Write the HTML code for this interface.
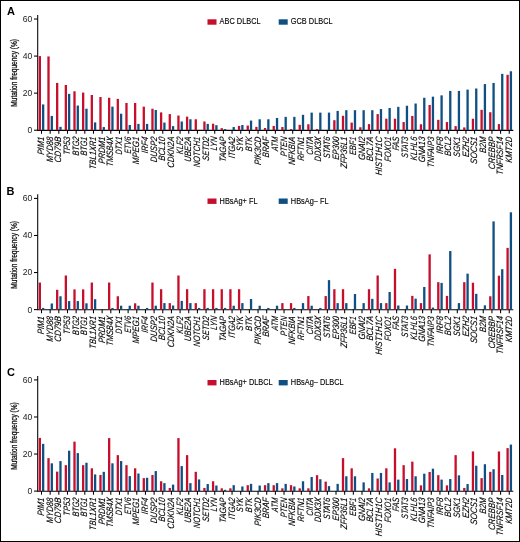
<!DOCTYPE html>
<html><head><meta charset="utf-8"><style>
html,body{margin:0;padding:0;background:#fff;}
svg{display:block;will-change:transform;}
text{font-family:"Liberation Sans",sans-serif;fill:#1a1a1a;}
.lt{font-size:11px;font-weight:bold;fill:#000;}
.yt{font-size:8.6px;text-anchor:end;}
.yl{font-size:9px;text-anchor:middle;fill:#111;stroke:#111;stroke-width:0.3px;}
.lg{font-size:8.3px;fill:#000;stroke:#000;stroke-width:0.12px;}
.gl{font-size:9.3px;font-style:italic;text-anchor:end;fill:#000;stroke:#000;stroke-width:0.12px;}
.ax{stroke:#000;stroke-width:1.05;}
</style></head><body>
<svg width="520" height="542" viewBox="0 0 520 542">
<rect x="0.5" y="0.5" width="519" height="541" fill="#fff" stroke="#000" stroke-width="1"/>
<g><text x="6.9" y="14.8" class="lt">A</text><line x1="37.7" y1="15.00" x2="37.7" y2="130.70" class="ax"/><line x1="37.2" y1="130.35" x2="513.3" y2="130.35" class="ax"/><line x1="34" y1="130.20" x2="37.7" y2="130.20" class="ax"/><text x="32.2" y="133.10" class="yt">0</text><line x1="34" y1="93.14" x2="37.7" y2="93.14" class="ax"/><text x="32.2" y="96.04" class="yt">20</text><line x1="34" y1="56.08" x2="37.7" y2="56.08" class="ax"/><text x="32.2" y="58.98" class="yt">40</text><line x1="34" y1="19.02" x2="37.7" y2="19.02" class="ax"/><text x="32.2" y="21.92" class="yt">60</text><text transform="translate(16.5,72.9) rotate(-90) scale(0.727,1)" class="yl">Mutation frequency (%)</text><rect x="207.5" y="19.3" width="9" height="5.4" fill="#c50f2d"/><text transform="translate(219.6,24.4) scale(0.89,1)" class="lg">ABC DLBCL</text><rect x="278.7" y="19.3" width="9" height="5.4" fill="#0f4f82"/><text transform="translate(290.8,24.4) scale(0.89,1)" class="lg">GCB DLBCL</text><rect x="38.70" y="56.08" width="2.3" height="74.12" fill="#c50f2d"/><rect x="42.00" y="104.44" width="2.3" height="25.76" fill="#0f4f82"/><line x1="41.50" y1="130.20" x2="41.50" y2="133.80" class="ax"/><text transform="translate(44.10,137.00) rotate(-90) scale(0.8348,1) skewX(-8)" class="gl">PIM1</text><rect x="47.36" y="56.45" width="2.3" height="73.75" fill="#c50f2d"/><rect x="50.66" y="115.93" width="2.3" height="14.27" fill="#0f4f82"/><line x1="50.16" y1="130.20" x2="50.16" y2="133.80" class="ax"/><text transform="translate(52.76,137.00) rotate(-90) scale(0.8233,1) skewX(-8)" class="gl">MYD88</text><rect x="56.02" y="82.95" width="2.3" height="47.25" fill="#c50f2d"/><rect x="59.32" y="126.86" width="2.3" height="3.34" fill="#0f4f82"/><line x1="58.82" y1="130.20" x2="58.82" y2="133.80" class="ax"/><text transform="translate(61.42,137.00) rotate(-90) scale(0.8585,1) skewX(-8)" class="gl">CD79B</text><rect x="64.69" y="84.99" width="2.3" height="45.21" fill="#c50f2d"/><rect x="67.99" y="93.88" width="2.3" height="36.32" fill="#0f4f82"/><line x1="67.49" y1="130.20" x2="67.49" y2="133.80" class="ax"/><text transform="translate(70.09,137.00) rotate(-90) scale(0.8151,1) skewX(-8)" class="gl">TP53</text><rect x="73.35" y="91.29" width="2.3" height="38.91" fill="#c50f2d"/><rect x="76.65" y="105.56" width="2.3" height="24.64" fill="#0f4f82"/><line x1="76.15" y1="130.20" x2="76.15" y2="133.80" class="ax"/><text transform="translate(78.75,137.00) rotate(-90) scale(0.7741,1) skewX(-8)" class="gl">BTG2</text><rect x="82.01" y="92.58" width="2.3" height="37.62" fill="#c50f2d"/><rect x="85.31" y="108.71" width="2.3" height="21.49" fill="#0f4f82"/><line x1="84.81" y1="130.20" x2="84.81" y2="133.80" class="ax"/><text transform="translate(87.41,137.00) rotate(-90) scale(0.7741,1) skewX(-8)" class="gl">BTG1</text><rect x="90.67" y="94.99" width="2.3" height="35.21" fill="#c50f2d"/><rect x="93.97" y="122.42" width="2.3" height="7.78" fill="#0f4f82"/><line x1="93.47" y1="130.20" x2="93.47" y2="133.80" class="ax"/><text transform="translate(96.07,137.00) rotate(-90) scale(0.8069,1) skewX(-8)" class="gl">TBL1XR1</text><rect x="99.33" y="97.03" width="2.3" height="33.17" fill="#c50f2d"/><rect x="102.63" y="127.05" width="2.3" height="3.15" fill="#0f4f82"/><line x1="102.13" y1="130.20" x2="102.13" y2="133.80" class="ax"/><text transform="translate(104.73,137.00) rotate(-90) scale(0.8298,1) skewX(-8)" class="gl">PRDM1</text><rect x="108.00" y="97.77" width="2.3" height="32.43" fill="#c50f2d"/><rect x="111.30" y="106.67" width="2.3" height="23.53" fill="#0f4f82"/><line x1="110.80" y1="130.20" x2="110.80" y2="133.80" class="ax"/><text transform="translate(113.40,137.00) rotate(-90) scale(0.7979,1) skewX(-8)" class="gl">TMSB4X</text><rect x="116.66" y="98.88" width="2.3" height="31.32" fill="#c50f2d"/><rect x="119.96" y="113.71" width="2.3" height="16.49" fill="#0f4f82"/><line x1="119.46" y1="130.20" x2="119.46" y2="133.80" class="ax"/><text transform="translate(122.06,137.00) rotate(-90) scale(0.7454,1) skewX(-8)" class="gl">DTX1</text><rect x="125.32" y="102.96" width="2.3" height="27.24" fill="#c50f2d"/><rect x="128.62" y="125.01" width="2.3" height="5.19" fill="#0f4f82"/><line x1="128.12" y1="130.20" x2="128.12" y2="133.80" class="ax"/><text transform="translate(130.72,137.00) rotate(-90) scale(0.7183,1) skewX(-8)" class="gl">ETV6</text><rect x="133.98" y="102.96" width="2.3" height="27.24" fill="#c50f2d"/><rect x="137.28" y="123.90" width="2.3" height="6.30" fill="#0f4f82"/><line x1="136.78" y1="130.20" x2="136.78" y2="133.80" class="ax"/><text transform="translate(139.38,137.00) rotate(-90) scale(0.8454,1) skewX(-8)" class="gl">MPEG1</text><rect x="142.64" y="106.67" width="2.3" height="23.53" fill="#c50f2d"/><rect x="145.94" y="123.90" width="2.3" height="6.30" fill="#0f4f82"/><line x1="145.44" y1="130.20" x2="145.44" y2="133.80" class="ax"/><text transform="translate(148.04,137.00) rotate(-90) scale(0.8249,1) skewX(-8)" class="gl">IRF4</text><rect x="151.31" y="108.71" width="2.3" height="21.49" fill="#c50f2d"/><rect x="154.61" y="110.00" width="2.3" height="20.20" fill="#0f4f82"/><line x1="154.11" y1="130.20" x2="154.11" y2="133.80" class="ax"/><text transform="translate(156.71,137.00) rotate(-90) scale(0.8233,1) skewX(-8)" class="gl">DUSP2</text><rect x="159.97" y="112.41" width="2.3" height="17.79" fill="#c50f2d"/><rect x="163.27" y="122.60" width="2.3" height="7.60" fill="#0f4f82"/><line x1="162.77" y1="130.20" x2="162.77" y2="133.80" class="ax"/><text transform="translate(165.37,137.00) rotate(-90) scale(0.8487,1) skewX(-8)" class="gl">BCL10</text><rect x="168.63" y="114.08" width="2.3" height="16.12" fill="#c50f2d"/><rect x="171.93" y="126.12" width="2.3" height="4.08" fill="#0f4f82"/><line x1="171.43" y1="130.20" x2="171.43" y2="133.80" class="ax"/><text transform="translate(174.03,137.00) rotate(-90) scale(0.8257,1) skewX(-8)" class="gl">CDKN2A</text><rect x="177.29" y="115.56" width="2.3" height="14.64" fill="#c50f2d"/><rect x="180.59" y="121.49" width="2.3" height="8.71" fill="#0f4f82"/><line x1="180.09" y1="130.20" x2="180.09" y2="133.80" class="ax"/><text transform="translate(182.69,137.00) rotate(-90) scale(0.7872,1) skewX(-8)" class="gl">KLF2</text><rect x="185.95" y="116.67" width="2.3" height="13.53" fill="#c50f2d"/><rect x="189.25" y="119.27" width="2.3" height="10.93" fill="#0f4f82"/><line x1="188.75" y1="130.20" x2="188.75" y2="133.80" class="ax"/><text transform="translate(191.35,137.00) rotate(-90) scale(0.8233,1) skewX(-8)" class="gl">UBE2A</text><rect x="194.62" y="119.27" width="2.3" height="10.93" fill="#c50f2d"/><line x1="197.42" y1="130.20" x2="197.42" y2="133.80" class="ax"/><text transform="translate(200.02,137.00) rotate(-90) scale(0.7987,1) skewX(-8)" class="gl">NOTCH1</text><rect x="203.28" y="121.49" width="2.3" height="8.71" fill="#c50f2d"/><rect x="206.58" y="123.90" width="2.3" height="6.30" fill="#0f4f82"/><line x1="206.08" y1="130.20" x2="206.08" y2="133.80" class="ax"/><text transform="translate(208.68,137.00) rotate(-90) scale(0.8028,1) skewX(-8)" class="gl">SETD2</text><rect x="211.94" y="123.71" width="2.3" height="6.49" fill="#c50f2d"/><rect x="215.24" y="125.20" width="2.3" height="5.00" fill="#0f4f82"/><line x1="214.74" y1="130.20" x2="214.74" y2="133.80" class="ax"/><text transform="translate(217.34,137.00) rotate(-90) scale(0.7962,1) skewX(-8)" class="gl">LYN</text><rect x="220.60" y="128.16" width="2.3" height="2.04" fill="#c50f2d"/><rect x="223.90" y="129.09" width="2.3" height="1.11" fill="#0f4f82"/><line x1="223.40" y1="130.20" x2="223.40" y2="133.80" class="ax"/><text transform="translate(226.00,137.00) rotate(-90) scale(0.8134,1) skewX(-8)" class="gl">TAGAP</text><rect x="232.56" y="127.05" width="2.3" height="3.15" fill="#0f4f82"/><line x1="232.06" y1="130.20" x2="232.06" y2="133.80" class="ax"/><text transform="translate(234.66,137.00) rotate(-90) scale(0.8044,1) skewX(-8)" class="gl">ITGA2</text><rect x="237.93" y="125.94" width="2.3" height="4.26" fill="#c50f2d"/><rect x="241.23" y="125.01" width="2.3" height="5.19" fill="#0f4f82"/><line x1="240.73" y1="130.20" x2="240.73" y2="133.80" class="ax"/><text transform="translate(243.33,137.00) rotate(-90) scale(0.7749,1) skewX(-8)" class="gl">SYK</text><rect x="246.59" y="125.57" width="2.3" height="4.63" fill="#c50f2d"/><rect x="249.89" y="120.56" width="2.3" height="9.64" fill="#0f4f82"/><line x1="249.39" y1="130.20" x2="249.39" y2="133.80" class="ax"/><text transform="translate(251.99,137.00) rotate(-90) scale(0.8200,1) skewX(-8)" class="gl">BTK</text><rect x="255.25" y="126.86" width="2.3" height="3.34" fill="#c50f2d"/><rect x="258.55" y="119.27" width="2.3" height="10.93" fill="#0f4f82"/><line x1="258.05" y1="130.20" x2="258.05" y2="133.80" class="ax"/><text transform="translate(260.65,137.00) rotate(-90) scale(0.8446,1) skewX(-8)" class="gl">PIK3CD</text><rect x="263.91" y="127.98" width="2.3" height="2.22" fill="#c50f2d"/><rect x="267.21" y="119.27" width="2.3" height="10.93" fill="#0f4f82"/><line x1="266.71" y1="130.20" x2="266.71" y2="133.80" class="ax"/><text transform="translate(269.31,137.00) rotate(-90) scale(0.8364,1) skewX(-8)" class="gl">BRAF</text><rect x="272.57" y="125.94" width="2.3" height="4.26" fill="#c50f2d"/><rect x="275.88" y="117.97" width="2.3" height="12.23" fill="#0f4f82"/><line x1="275.38" y1="130.20" x2="275.38" y2="133.80" class="ax"/><text transform="translate(277.98,137.00) rotate(-90) scale(0.7569,1) skewX(-8)" class="gl">ATM</text><rect x="281.24" y="127.05" width="2.3" height="3.15" fill="#c50f2d"/><rect x="284.54" y="116.86" width="2.3" height="13.34" fill="#0f4f82"/><line x1="284.04" y1="130.20" x2="284.04" y2="133.80" class="ax"/><text transform="translate(286.64,137.00) rotate(-90) scale(0.7946,1) skewX(-8)" class="gl">PTEN</text><rect x="289.90" y="129.09" width="2.3" height="1.11" fill="#c50f2d"/><rect x="293.20" y="116.86" width="2.3" height="13.34" fill="#0f4f82"/><line x1="292.70" y1="130.20" x2="292.70" y2="133.80" class="ax"/><text transform="translate(295.30,137.00) rotate(-90) scale(0.8446,1) skewX(-8)" class="gl">NFKBIA</text><rect x="298.56" y="124.83" width="2.3" height="5.37" fill="#c50f2d"/><rect x="301.86" y="114.82" width="2.3" height="15.38" fill="#0f4f82"/><line x1="301.36" y1="130.20" x2="301.36" y2="133.80" class="ax"/><text transform="translate(303.96,137.00) rotate(-90) scale(0.8028,1) skewX(-8)" class="gl">RFTN1</text><rect x="307.22" y="124.27" width="2.3" height="5.93" fill="#c50f2d"/><rect x="310.52" y="112.60" width="2.3" height="17.60" fill="#0f4f82"/><line x1="310.02" y1="130.20" x2="310.02" y2="133.80" class="ax"/><text transform="translate(312.62,137.00) rotate(-90) scale(0.7847,1) skewX(-8)" class="gl">CIITA</text><rect x="315.89" y="129.09" width="2.3" height="1.11" fill="#c50f2d"/><rect x="319.19" y="112.60" width="2.3" height="17.60" fill="#0f4f82"/><line x1="318.69" y1="130.20" x2="318.69" y2="133.80" class="ax"/><text transform="translate(321.29,137.00) rotate(-90) scale(0.7970,1) skewX(-8)" class="gl">DDX3X</text><rect x="327.85" y="112.60" width="2.3" height="17.60" fill="#0f4f82"/><line x1="327.35" y1="130.20" x2="327.35" y2="133.80" class="ax"/><text transform="translate(329.95,137.00) rotate(-90) scale(0.7823,1) skewX(-8)" class="gl">STAT6</text><rect x="333.21" y="120.19" width="2.3" height="10.01" fill="#c50f2d"/><rect x="336.51" y="110.93" width="2.3" height="19.27" fill="#0f4f82"/><line x1="336.01" y1="130.20" x2="336.01" y2="133.80" class="ax"/><text transform="translate(338.61,137.00) rotate(-90) scale(0.8233,1) skewX(-8)" class="gl">EP300</text><rect x="341.87" y="115.75" width="2.3" height="14.45" fill="#c50f2d"/><rect x="345.17" y="110.19" width="2.3" height="20.01" fill="#0f4f82"/><line x1="344.67" y1="130.20" x2="344.67" y2="133.80" class="ax"/><text transform="translate(347.27,137.00) rotate(-90) scale(0.8257,1) skewX(-8)" class="gl">ZFP36L1</text><rect x="350.53" y="122.60" width="2.3" height="7.60" fill="#c50f2d"/><rect x="353.83" y="110.19" width="2.3" height="20.01" fill="#0f4f82"/><line x1="353.33" y1="130.20" x2="353.33" y2="133.80" class="ax"/><text transform="translate(355.93,137.00) rotate(-90) scale(0.7847,1) skewX(-8)" class="gl">EBF1</text><rect x="359.20" y="127.24" width="2.3" height="2.96" fill="#c50f2d"/><rect x="362.50" y="110.19" width="2.3" height="20.01" fill="#0f4f82"/><line x1="362.00" y1="130.20" x2="362.00" y2="133.80" class="ax"/><text transform="translate(364.60,137.00) rotate(-90) scale(0.8380,1) skewX(-8)" class="gl">GNAI2</text><rect x="367.86" y="124.09" width="2.3" height="6.11" fill="#c50f2d"/><rect x="371.16" y="110.19" width="2.3" height="20.01" fill="#0f4f82"/><line x1="370.66" y1="130.20" x2="370.66" y2="133.80" class="ax"/><text transform="translate(373.26,137.00) rotate(-90) scale(0.8307,1) skewX(-8)" class="gl">BCL7A</text><rect x="376.52" y="114.08" width="2.3" height="16.12" fill="#c50f2d"/><rect x="379.82" y="109.08" width="2.3" height="21.12" fill="#0f4f82"/><line x1="379.32" y1="130.20" x2="379.32" y2="133.80" class="ax"/><text transform="translate(381.92,137.00) rotate(-90) scale(0.8569,1) skewX(-8)" class="gl">HIST1H1C</text><rect x="385.18" y="118.71" width="2.3" height="11.49" fill="#c50f2d"/><rect x="388.48" y="107.96" width="2.3" height="22.24" fill="#0f4f82"/><line x1="387.98" y1="130.20" x2="387.98" y2="133.80" class="ax"/><text transform="translate(390.58,137.00) rotate(-90) scale(0.7897,1) skewX(-8)" class="gl">FOXO1</text><rect x="393.84" y="118.71" width="2.3" height="11.49" fill="#c50f2d"/><rect x="397.14" y="106.85" width="2.3" height="23.35" fill="#0f4f82"/><line x1="396.64" y1="130.20" x2="396.64" y2="133.80" class="ax"/><text transform="translate(399.24,137.00) rotate(-90) scale(0.7962,1) skewX(-8)" class="gl">FAS</text><rect x="402.51" y="122.05" width="2.3" height="8.15" fill="#c50f2d"/><rect x="405.81" y="105.74" width="2.3" height="24.46" fill="#0f4f82"/><line x1="405.31" y1="130.20" x2="405.31" y2="133.80" class="ax"/><text transform="translate(407.91,137.00) rotate(-90) scale(0.7667,1) skewX(-8)" class="gl">STAT3</text><rect x="411.17" y="115.93" width="2.3" height="14.27" fill="#c50f2d"/><rect x="414.47" y="103.52" width="2.3" height="26.68" fill="#0f4f82"/><line x1="413.97" y1="130.20" x2="413.97" y2="133.80" class="ax"/><text transform="translate(416.57,137.00) rotate(-90) scale(0.8380,1) skewX(-8)" class="gl">KLHL6</text><rect x="419.83" y="124.27" width="2.3" height="5.93" fill="#c50f2d"/><rect x="423.13" y="97.77" width="2.3" height="32.43" fill="#0f4f82"/><line x1="422.63" y1="130.20" x2="422.63" y2="133.80" class="ax"/><text transform="translate(425.23,137.00) rotate(-90) scale(0.8397,1) skewX(-8)" class="gl">GNA13</text><rect x="428.49" y="105.00" width="2.3" height="25.20" fill="#c50f2d"/><rect x="431.79" y="96.66" width="2.3" height="33.54" fill="#0f4f82"/><line x1="431.29" y1="130.20" x2="431.29" y2="133.80" class="ax"/><text transform="translate(433.89,137.00) rotate(-90) scale(0.8200,1) skewX(-8)" class="gl">TNFAIP3</text><rect x="437.15" y="119.82" width="2.3" height="10.38" fill="#c50f2d"/><rect x="440.45" y="95.36" width="2.3" height="34.84" fill="#0f4f82"/><line x1="439.95" y1="130.20" x2="439.95" y2="133.80" class="ax"/><text transform="translate(442.55,137.00) rotate(-90) scale(0.8569,1) skewX(-8)" class="gl">IRF8</text><rect x="445.82" y="122.05" width="2.3" height="8.15" fill="#c50f2d"/><rect x="449.12" y="90.92" width="2.3" height="39.28" fill="#0f4f82"/><line x1="448.62" y1="130.20" x2="448.62" y2="133.80" class="ax"/><text transform="translate(451.22,137.00) rotate(-90) scale(0.8290,1) skewX(-8)" class="gl">BCL2</text><rect x="454.48" y="126.12" width="2.3" height="4.08" fill="#c50f2d"/><rect x="457.78" y="90.92" width="2.3" height="39.28" fill="#0f4f82"/><line x1="457.28" y1="130.20" x2="457.28" y2="133.80" class="ax"/><text transform="translate(459.88,137.00) rotate(-90) scale(0.8118,1) skewX(-8)" class="gl">SGK1</text><rect x="463.14" y="127.42" width="2.3" height="2.78" fill="#c50f2d"/><rect x="466.44" y="89.62" width="2.3" height="40.58" fill="#0f4f82"/><line x1="465.94" y1="130.20" x2="465.94" y2="133.80" class="ax"/><text transform="translate(468.54,137.00) rotate(-90) scale(0.8553,1) skewX(-8)" class="gl">EZH2</text><rect x="471.80" y="118.71" width="2.3" height="11.49" fill="#c50f2d"/><rect x="475.10" y="88.51" width="2.3" height="41.69" fill="#0f4f82"/><line x1="474.60" y1="130.20" x2="474.60" y2="133.80" class="ax"/><text transform="translate(477.20,137.00) rotate(-90) scale(0.8635,1) skewX(-8)" class="gl">SOCS1</text><rect x="480.46" y="109.82" width="2.3" height="20.38" fill="#c50f2d"/><rect x="483.76" y="84.06" width="2.3" height="46.14" fill="#0f4f82"/><line x1="483.26" y1="130.20" x2="483.26" y2="133.80" class="ax"/><text transform="translate(485.86,137.00) rotate(-90) scale(0.8479,1) skewX(-8)" class="gl">B2M</text><rect x="489.13" y="112.23" width="2.3" height="17.97" fill="#c50f2d"/><rect x="492.43" y="82.95" width="2.3" height="47.25" fill="#0f4f82"/><line x1="491.93" y1="130.20" x2="491.93" y2="133.80" class="ax"/><text transform="translate(494.53,137.00) rotate(-90) scale(0.8495,1) skewX(-8)" class="gl">CREBBP</text><rect x="497.79" y="124.09" width="2.3" height="6.11" fill="#c50f2d"/><rect x="501.09" y="73.87" width="2.3" height="56.33" fill="#0f4f82"/><line x1="500.59" y1="130.20" x2="500.59" y2="133.80" class="ax"/><text transform="translate(503.19,137.00) rotate(-90) scale(0.8069,1) skewX(-8)" class="gl">TNFRSF14</text><rect x="506.45" y="74.80" width="2.3" height="55.40" fill="#c50f2d"/><rect x="509.75" y="71.27" width="2.3" height="58.93" fill="#0f4f82"/><line x1="509.25" y1="130.20" x2="509.25" y2="133.80" class="ax"/><text transform="translate(511.85,137.00) rotate(-90) scale(0.8298,1) skewX(-8)" class="gl">KMT2D</text></g>
<g><text x="6.6" y="194.6" class="lt">B</text><line x1="37.7" y1="194.30" x2="37.7" y2="310.10" class="ax"/><line x1="37.2" y1="309.75" x2="513.3" y2="309.75" class="ax"/><line x1="34" y1="309.60" x2="37.7" y2="309.60" class="ax"/><text x="32.2" y="312.50" class="yt">0</text><line x1="34" y1="272.54" x2="37.7" y2="272.54" class="ax"/><text x="32.2" y="275.44" class="yt">20</text><line x1="34" y1="235.48" x2="37.7" y2="235.48" class="ax"/><text x="32.2" y="238.38" class="yt">40</text><line x1="34" y1="198.42" x2="37.7" y2="198.42" class="ax"/><text x="32.2" y="201.32" class="yt">60</text><text transform="translate(16.5,254.9) rotate(-90) scale(0.727,1)" class="yl">Mutation frequency (%)</text><rect x="207.5" y="198.5" width="9" height="5.4" fill="#c50f2d"/><text transform="translate(219.6,203.6) scale(0.89,1)" class="lg">HBsAg+ FL</text><rect x="278.7" y="198.5" width="9" height="5.4" fill="#0f4f82"/><text transform="translate(290.8,203.6) scale(0.89,1)" class="lg">HBsAg– FL</text><rect x="38.70" y="282.55" width="2.3" height="27.05" fill="#c50f2d"/><rect x="42.00" y="307.93" width="2.3" height="1.67" fill="#0f4f82"/><line x1="41.50" y1="309.60" x2="41.50" y2="313.20" class="ax"/><text transform="translate(44.10,316.40) rotate(-90) scale(0.8348,1) skewX(-8)" class="gl">PIM1</text><rect x="50.66" y="303.49" width="2.3" height="6.11" fill="#0f4f82"/><line x1="50.16" y1="309.60" x2="50.16" y2="313.20" class="ax"/><text transform="translate(52.76,316.40) rotate(-90) scale(0.8233,1) skewX(-8)" class="gl">MYD88</text><rect x="56.02" y="289.77" width="2.3" height="19.83" fill="#c50f2d"/><rect x="59.32" y="296.26" width="2.3" height="13.34" fill="#0f4f82"/><line x1="58.82" y1="309.60" x2="58.82" y2="313.20" class="ax"/><text transform="translate(61.42,316.40) rotate(-90) scale(0.8585,1) skewX(-8)" class="gl">CD79B</text><rect x="64.69" y="275.50" width="2.3" height="34.10" fill="#c50f2d"/><rect x="67.99" y="301.08" width="2.3" height="8.52" fill="#0f4f82"/><line x1="67.49" y1="309.60" x2="67.49" y2="313.20" class="ax"/><text transform="translate(70.09,316.40) rotate(-90) scale(0.8151,1) skewX(-8)" class="gl">TP53</text><rect x="73.35" y="289.40" width="2.3" height="20.20" fill="#c50f2d"/><rect x="76.65" y="301.08" width="2.3" height="8.52" fill="#0f4f82"/><line x1="76.15" y1="309.60" x2="76.15" y2="313.20" class="ax"/><text transform="translate(78.75,316.40) rotate(-90) scale(0.7741,1) skewX(-8)" class="gl">BTG2</text><rect x="82.01" y="289.40" width="2.3" height="20.20" fill="#c50f2d"/><rect x="85.31" y="303.30" width="2.3" height="6.30" fill="#0f4f82"/><line x1="84.81" y1="309.60" x2="84.81" y2="313.20" class="ax"/><text transform="translate(87.41,316.40) rotate(-90) scale(0.7741,1) skewX(-8)" class="gl">BTG1</text><rect x="90.67" y="282.55" width="2.3" height="27.05" fill="#c50f2d"/><rect x="93.97" y="299.22" width="2.3" height="10.38" fill="#0f4f82"/><line x1="93.47" y1="309.60" x2="93.47" y2="313.20" class="ax"/><text transform="translate(96.07,316.40) rotate(-90) scale(0.8069,1) skewX(-8)" class="gl">TBL1XR1</text><line x1="102.13" y1="309.60" x2="102.13" y2="313.20" class="ax"/><text transform="translate(104.73,316.40) rotate(-90) scale(0.8298,1) skewX(-8)" class="gl">PRDM1</text><rect x="108.00" y="282.55" width="2.3" height="27.05" fill="#c50f2d"/><rect x="111.30" y="307.93" width="2.3" height="1.67" fill="#0f4f82"/><line x1="110.80" y1="309.60" x2="110.80" y2="313.20" class="ax"/><text transform="translate(113.40,316.40) rotate(-90) scale(0.7979,1) skewX(-8)" class="gl">TMSB4X</text><rect x="116.66" y="296.26" width="2.3" height="13.34" fill="#c50f2d"/><rect x="119.96" y="305.71" width="2.3" height="3.89" fill="#0f4f82"/><line x1="119.46" y1="309.60" x2="119.46" y2="313.20" class="ax"/><text transform="translate(122.06,316.40) rotate(-90) scale(0.7454,1) skewX(-8)" class="gl">DTX1</text><rect x="128.62" y="305.71" width="2.3" height="3.89" fill="#0f4f82"/><line x1="128.12" y1="309.60" x2="128.12" y2="313.20" class="ax"/><text transform="translate(130.72,316.40) rotate(-90) scale(0.7183,1) skewX(-8)" class="gl">ETV6</text><rect x="133.98" y="303.30" width="2.3" height="6.30" fill="#c50f2d"/><rect x="137.28" y="305.71" width="2.3" height="3.89" fill="#0f4f82"/><line x1="136.78" y1="309.60" x2="136.78" y2="313.20" class="ax"/><text transform="translate(139.38,316.40) rotate(-90) scale(0.8454,1) skewX(-8)" class="gl">MPEG1</text><rect x="145.94" y="307.93" width="2.3" height="1.67" fill="#0f4f82"/><line x1="145.44" y1="309.60" x2="145.44" y2="313.20" class="ax"/><text transform="translate(148.04,316.40) rotate(-90) scale(0.8249,1) skewX(-8)" class="gl">IRF4</text><rect x="151.31" y="282.55" width="2.3" height="27.05" fill="#c50f2d"/><rect x="154.61" y="305.71" width="2.3" height="3.89" fill="#0f4f82"/><line x1="154.11" y1="309.60" x2="154.11" y2="313.20" class="ax"/><text transform="translate(156.71,316.40) rotate(-90) scale(0.8233,1) skewX(-8)" class="gl">DUSP2</text><rect x="159.97" y="289.22" width="2.3" height="20.38" fill="#c50f2d"/><rect x="163.27" y="303.11" width="2.3" height="6.49" fill="#0f4f82"/><line x1="162.77" y1="309.60" x2="162.77" y2="313.20" class="ax"/><text transform="translate(165.37,316.40) rotate(-90) scale(0.8487,1) skewX(-8)" class="gl">BCL10</text><rect x="168.63" y="303.11" width="2.3" height="6.49" fill="#c50f2d"/><rect x="171.93" y="305.52" width="2.3" height="4.08" fill="#0f4f82"/><line x1="171.43" y1="309.60" x2="171.43" y2="313.20" class="ax"/><text transform="translate(174.03,316.40) rotate(-90) scale(0.8257,1) skewX(-8)" class="gl">CDKN2A</text><rect x="177.29" y="275.50" width="2.3" height="34.10" fill="#c50f2d"/><rect x="180.59" y="300.89" width="2.3" height="8.71" fill="#0f4f82"/><line x1="180.09" y1="309.60" x2="180.09" y2="313.20" class="ax"/><text transform="translate(182.69,316.40) rotate(-90) scale(0.7872,1) skewX(-8)" class="gl">KLF2</text><rect x="185.95" y="289.22" width="2.3" height="20.38" fill="#c50f2d"/><rect x="189.25" y="303.11" width="2.3" height="6.49" fill="#0f4f82"/><line x1="188.75" y1="309.60" x2="188.75" y2="313.20" class="ax"/><text transform="translate(191.35,316.40) rotate(-90) scale(0.8233,1) skewX(-8)" class="gl">UBE2A</text><rect x="194.62" y="303.11" width="2.3" height="6.49" fill="#c50f2d"/><rect x="197.92" y="307.93" width="2.3" height="1.67" fill="#0f4f82"/><line x1="197.42" y1="309.60" x2="197.42" y2="313.20" class="ax"/><text transform="translate(200.02,316.40) rotate(-90) scale(0.7987,1) skewX(-8)" class="gl">NOTCH1</text><rect x="203.28" y="289.22" width="2.3" height="20.38" fill="#c50f2d"/><rect x="206.58" y="307.93" width="2.3" height="1.67" fill="#0f4f82"/><line x1="206.08" y1="309.60" x2="206.08" y2="313.20" class="ax"/><text transform="translate(208.68,316.40) rotate(-90) scale(0.8028,1) skewX(-8)" class="gl">SETD2</text><rect x="211.94" y="289.22" width="2.3" height="20.38" fill="#c50f2d"/><rect x="215.24" y="307.93" width="2.3" height="1.67" fill="#0f4f82"/><line x1="214.74" y1="309.60" x2="214.74" y2="313.20" class="ax"/><text transform="translate(217.34,316.40) rotate(-90) scale(0.7962,1) skewX(-8)" class="gl">LYN</text><rect x="220.60" y="289.22" width="2.3" height="20.38" fill="#c50f2d"/><rect x="223.90" y="307.93" width="2.3" height="1.67" fill="#0f4f82"/><line x1="223.40" y1="309.60" x2="223.40" y2="313.20" class="ax"/><text transform="translate(226.00,316.40) rotate(-90) scale(0.8134,1) skewX(-8)" class="gl">TAGAP</text><rect x="229.26" y="289.22" width="2.3" height="20.38" fill="#c50f2d"/><rect x="232.56" y="305.71" width="2.3" height="3.89" fill="#0f4f82"/><line x1="232.06" y1="309.60" x2="232.06" y2="313.20" class="ax"/><text transform="translate(234.66,316.40) rotate(-90) scale(0.8044,1) skewX(-8)" class="gl">ITGA2</text><rect x="237.93" y="289.22" width="2.3" height="20.38" fill="#c50f2d"/><rect x="241.23" y="303.11" width="2.3" height="6.49" fill="#0f4f82"/><line x1="240.73" y1="309.60" x2="240.73" y2="313.20" class="ax"/><text transform="translate(243.33,316.40) rotate(-90) scale(0.7749,1) skewX(-8)" class="gl">SYK</text><rect x="249.89" y="299.04" width="2.3" height="10.56" fill="#0f4f82"/><line x1="249.39" y1="309.60" x2="249.39" y2="313.20" class="ax"/><text transform="translate(251.99,316.40) rotate(-90) scale(0.8200,1) skewX(-8)" class="gl">BTK</text><rect x="258.55" y="305.71" width="2.3" height="3.89" fill="#0f4f82"/><line x1="258.05" y1="309.60" x2="258.05" y2="313.20" class="ax"/><text transform="translate(260.65,316.40) rotate(-90) scale(0.8446,1) skewX(-8)" class="gl">PIK3CD</text><rect x="267.21" y="307.93" width="2.3" height="1.67" fill="#0f4f82"/><line x1="266.71" y1="309.60" x2="266.71" y2="313.20" class="ax"/><text transform="translate(269.31,316.40) rotate(-90) scale(0.8364,1) skewX(-8)" class="gl">BRAF</text><rect x="275.88" y="305.71" width="2.3" height="3.89" fill="#0f4f82"/><line x1="275.38" y1="309.60" x2="275.38" y2="313.20" class="ax"/><text transform="translate(277.98,316.40) rotate(-90) scale(0.7569,1) skewX(-8)" class="gl">ATM</text><rect x="281.24" y="303.11" width="2.3" height="6.49" fill="#c50f2d"/><line x1="284.04" y1="309.60" x2="284.04" y2="313.20" class="ax"/><text transform="translate(286.64,316.40) rotate(-90) scale(0.7946,1) skewX(-8)" class="gl">PTEN</text><rect x="289.90" y="303.11" width="2.3" height="6.49" fill="#c50f2d"/><rect x="293.20" y="307.93" width="2.3" height="1.67" fill="#0f4f82"/><line x1="292.70" y1="309.60" x2="292.70" y2="313.20" class="ax"/><text transform="translate(295.30,316.40) rotate(-90) scale(0.8446,1) skewX(-8)" class="gl">NFKBIA</text><rect x="301.86" y="303.11" width="2.3" height="6.49" fill="#0f4f82"/><line x1="301.36" y1="309.60" x2="301.36" y2="313.20" class="ax"/><text transform="translate(303.96,316.40) rotate(-90) scale(0.8028,1) skewX(-8)" class="gl">RFTN1</text><rect x="307.22" y="296.07" width="2.3" height="13.53" fill="#c50f2d"/><rect x="310.52" y="305.71" width="2.3" height="3.89" fill="#0f4f82"/><line x1="310.02" y1="309.60" x2="310.02" y2="313.20" class="ax"/><text transform="translate(312.62,316.40) rotate(-90) scale(0.7847,1) skewX(-8)" class="gl">CIITA</text><rect x="319.19" y="307.93" width="2.3" height="1.67" fill="#0f4f82"/><line x1="318.69" y1="309.60" x2="318.69" y2="313.20" class="ax"/><text transform="translate(321.29,316.40) rotate(-90) scale(0.7970,1) skewX(-8)" class="gl">DDX3X</text><rect x="324.55" y="296.07" width="2.3" height="13.53" fill="#c50f2d"/><rect x="327.85" y="280.14" width="2.3" height="29.46" fill="#0f4f82"/><line x1="327.35" y1="309.60" x2="327.35" y2="313.20" class="ax"/><text transform="translate(329.95,316.40) rotate(-90) scale(0.7823,1) skewX(-8)" class="gl">STAT6</text><rect x="333.21" y="289.22" width="2.3" height="20.38" fill="#c50f2d"/><rect x="336.51" y="303.11" width="2.3" height="6.49" fill="#0f4f82"/><line x1="336.01" y1="309.60" x2="336.01" y2="313.20" class="ax"/><text transform="translate(338.61,316.40) rotate(-90) scale(0.8233,1) skewX(-8)" class="gl">EP300</text><rect x="341.87" y="289.22" width="2.3" height="20.38" fill="#c50f2d"/><rect x="345.17" y="303.11" width="2.3" height="6.49" fill="#0f4f82"/><line x1="344.67" y1="309.60" x2="344.67" y2="313.20" class="ax"/><text transform="translate(347.27,316.40) rotate(-90) scale(0.8257,1) skewX(-8)" class="gl">ZFP36L1</text><rect x="353.83" y="294.03" width="2.3" height="15.57" fill="#0f4f82"/><line x1="353.33" y1="309.60" x2="353.33" y2="313.20" class="ax"/><text transform="translate(355.93,316.40) rotate(-90) scale(0.7847,1) skewX(-8)" class="gl">EBF1</text><rect x="362.50" y="303.11" width="2.3" height="6.49" fill="#0f4f82"/><line x1="362.00" y1="309.60" x2="362.00" y2="313.20" class="ax"/><text transform="translate(364.60,316.40) rotate(-90) scale(0.8380,1) skewX(-8)" class="gl">GNAI2</text><rect x="367.86" y="289.22" width="2.3" height="20.38" fill="#c50f2d"/><rect x="371.16" y="298.85" width="2.3" height="10.75" fill="#0f4f82"/><line x1="370.66" y1="309.60" x2="370.66" y2="313.20" class="ax"/><text transform="translate(373.26,316.40) rotate(-90) scale(0.8307,1) skewX(-8)" class="gl">BCL7A</text><rect x="376.52" y="275.50" width="2.3" height="34.10" fill="#c50f2d"/><rect x="379.82" y="303.11" width="2.3" height="6.49" fill="#0f4f82"/><line x1="379.32" y1="309.60" x2="379.32" y2="313.20" class="ax"/><text transform="translate(381.92,316.40) rotate(-90) scale(0.8569,1) skewX(-8)" class="gl">HIST1H1C</text><rect x="385.18" y="303.11" width="2.3" height="6.49" fill="#c50f2d"/><rect x="388.48" y="292.00" width="2.3" height="17.60" fill="#0f4f82"/><line x1="387.98" y1="309.60" x2="387.98" y2="313.20" class="ax"/><text transform="translate(390.58,316.40) rotate(-90) scale(0.7897,1) skewX(-8)" class="gl">FOXO1</text><rect x="393.84" y="268.83" width="2.3" height="40.77" fill="#c50f2d"/><rect x="397.14" y="305.52" width="2.3" height="4.08" fill="#0f4f82"/><line x1="396.64" y1="309.60" x2="396.64" y2="313.20" class="ax"/><text transform="translate(399.24,316.40) rotate(-90) scale(0.7962,1) skewX(-8)" class="gl">FAS</text><rect x="405.81" y="305.52" width="2.3" height="4.08" fill="#0f4f82"/><line x1="405.31" y1="309.60" x2="405.31" y2="313.20" class="ax"/><text transform="translate(407.91,316.40) rotate(-90) scale(0.7667,1) skewX(-8)" class="gl">STAT3</text><rect x="411.17" y="295.89" width="2.3" height="13.71" fill="#c50f2d"/><rect x="414.47" y="298.67" width="2.3" height="10.93" fill="#0f4f82"/><line x1="413.97" y1="309.60" x2="413.97" y2="313.20" class="ax"/><text transform="translate(416.57,316.40) rotate(-90) scale(0.8380,1) skewX(-8)" class="gl">KLHL6</text><rect x="419.83" y="303.11" width="2.3" height="6.49" fill="#c50f2d"/><rect x="423.13" y="286.99" width="2.3" height="22.61" fill="#0f4f82"/><line x1="422.63" y1="309.60" x2="422.63" y2="313.20" class="ax"/><text transform="translate(425.23,316.40) rotate(-90) scale(0.8397,1) skewX(-8)" class="gl">GNA13</text><rect x="428.49" y="254.38" width="2.3" height="55.22" fill="#c50f2d"/><rect x="431.79" y="307.56" width="2.3" height="2.04" fill="#0f4f82"/><line x1="431.29" y1="309.60" x2="431.29" y2="313.20" class="ax"/><text transform="translate(433.89,316.40) rotate(-90) scale(0.8200,1) skewX(-8)" class="gl">TNFAIP3</text><rect x="437.15" y="282.18" width="2.3" height="27.42" fill="#c50f2d"/><rect x="440.45" y="282.92" width="2.3" height="26.68" fill="#0f4f82"/><line x1="439.95" y1="309.60" x2="439.95" y2="313.20" class="ax"/><text transform="translate(442.55,316.40) rotate(-90) scale(0.8569,1) skewX(-8)" class="gl">IRF8</text><rect x="445.82" y="295.89" width="2.3" height="13.71" fill="#c50f2d"/><rect x="449.12" y="251.05" width="2.3" height="58.55" fill="#0f4f82"/><line x1="448.62" y1="309.60" x2="448.62" y2="313.20" class="ax"/><text transform="translate(451.22,316.40) rotate(-90) scale(0.8290,1) skewX(-8)" class="gl">BCL2</text><rect x="457.78" y="303.11" width="2.3" height="6.49" fill="#0f4f82"/><line x1="457.28" y1="309.60" x2="457.28" y2="313.20" class="ax"/><text transform="translate(459.88,316.40) rotate(-90) scale(0.8118,1) skewX(-8)" class="gl">SGK1</text><rect x="463.14" y="282.18" width="2.3" height="27.42" fill="#c50f2d"/><rect x="466.44" y="273.65" width="2.3" height="35.95" fill="#0f4f82"/><line x1="465.94" y1="309.60" x2="465.94" y2="313.20" class="ax"/><text transform="translate(468.54,316.40) rotate(-90) scale(0.8553,1) skewX(-8)" class="gl">EZH2</text><rect x="471.80" y="282.73" width="2.3" height="26.87" fill="#c50f2d"/><rect x="475.10" y="293.85" width="2.3" height="15.75" fill="#0f4f82"/><line x1="474.60" y1="309.60" x2="474.60" y2="313.20" class="ax"/><text transform="translate(477.20,316.40) rotate(-90) scale(0.8635,1) skewX(-8)" class="gl">SOCS1</text><rect x="483.76" y="305.34" width="2.3" height="4.26" fill="#0f4f82"/><line x1="483.26" y1="309.60" x2="483.26" y2="313.20" class="ax"/><text transform="translate(485.86,316.40) rotate(-90) scale(0.8479,1) skewX(-8)" class="gl">B2M</text><rect x="489.13" y="296.26" width="2.3" height="13.34" fill="#c50f2d"/><rect x="492.43" y="221.40" width="2.3" height="88.20" fill="#0f4f82"/><line x1="491.93" y1="309.60" x2="491.93" y2="313.20" class="ax"/><text transform="translate(494.53,316.40) rotate(-90) scale(0.8495,1) skewX(-8)" class="gl">CREBBP</text><rect x="497.79" y="275.69" width="2.3" height="33.91" fill="#c50f2d"/><rect x="501.09" y="269.20" width="2.3" height="40.40" fill="#0f4f82"/><line x1="500.59" y1="309.60" x2="500.59" y2="313.20" class="ax"/><text transform="translate(503.19,316.40) rotate(-90) scale(0.8069,1) skewX(-8)" class="gl">TNFRSF14</text><rect x="506.45" y="247.90" width="2.3" height="61.70" fill="#c50f2d"/><rect x="509.75" y="212.32" width="2.3" height="97.28" fill="#0f4f82"/><line x1="509.25" y1="309.60" x2="509.25" y2="313.20" class="ax"/><text transform="translate(511.85,316.40) rotate(-90) scale(0.8298,1) skewX(-8)" class="gl">KMT2D</text></g>
<g><text x="6.9" y="375.8" class="lt">C</text><line x1="37.7" y1="376.00" x2="37.7" y2="491.60" class="ax"/><line x1="37.2" y1="491.25" x2="513.3" y2="491.25" class="ax"/><line x1="34" y1="491.10" x2="37.7" y2="491.10" class="ax"/><text x="32.2" y="494.00" class="yt">0</text><line x1="34" y1="454.04" x2="37.7" y2="454.04" class="ax"/><text x="32.2" y="456.94" class="yt">20</text><line x1="34" y1="416.98" x2="37.7" y2="416.98" class="ax"/><text x="32.2" y="419.88" class="yt">40</text><line x1="34" y1="379.92" x2="37.7" y2="379.92" class="ax"/><text x="32.2" y="382.82" class="yt">60</text><text transform="translate(16.5,436.0) rotate(-90) scale(0.727,1)" class="yl">Mutation frequency (%)</text><rect x="207.5" y="380.0" width="9" height="5.4" fill="#c50f2d"/><text transform="translate(219.6,385.1) scale(0.89,1)" class="lg">HBsAg+ DLBCL</text><rect x="278.7" y="380.0" width="9" height="5.4" fill="#0f4f82"/><text transform="translate(290.8,385.1) scale(0.89,1)" class="lg">HBsAg– DLBCL</text><rect x="38.70" y="437.92" width="2.3" height="53.18" fill="#c50f2d"/><rect x="42.00" y="443.85" width="2.3" height="47.25" fill="#0f4f82"/><line x1="41.50" y1="491.10" x2="41.50" y2="494.70" class="ax"/><text transform="translate(44.10,497.90) rotate(-90) scale(0.8348,1) skewX(-8)" class="gl">PIM1</text><rect x="47.36" y="458.12" width="2.3" height="32.98" fill="#c50f2d"/><rect x="50.66" y="463.31" width="2.3" height="27.79" fill="#0f4f82"/><line x1="50.16" y1="491.10" x2="50.16" y2="494.70" class="ax"/><text transform="translate(52.76,497.90) rotate(-90) scale(0.8233,1) skewX(-8)" class="gl">MYD88</text><rect x="56.02" y="471.64" width="2.3" height="19.46" fill="#c50f2d"/><rect x="59.32" y="461.08" width="2.3" height="30.02" fill="#0f4f82"/><line x1="58.82" y1="491.10" x2="58.82" y2="494.70" class="ax"/><text transform="translate(61.42,497.90) rotate(-90) scale(0.8585,1) skewX(-8)" class="gl">CD79B</text><rect x="64.69" y="465.16" width="2.3" height="25.94" fill="#c50f2d"/><rect x="67.99" y="450.70" width="2.3" height="40.40" fill="#0f4f82"/><line x1="67.49" y1="491.10" x2="67.49" y2="494.70" class="ax"/><text transform="translate(70.09,497.90) rotate(-90) scale(0.8151,1) skewX(-8)" class="gl">TP53</text><rect x="73.35" y="441.62" width="2.3" height="49.48" fill="#c50f2d"/><rect x="76.65" y="453.11" width="2.3" height="37.99" fill="#0f4f82"/><line x1="76.15" y1="491.10" x2="76.15" y2="494.70" class="ax"/><text transform="translate(78.75,497.90) rotate(-90) scale(0.7741,1) skewX(-8)" class="gl">BTG2</text><rect x="82.01" y="465.16" width="2.3" height="25.94" fill="#c50f2d"/><rect x="85.31" y="462.75" width="2.3" height="28.35" fill="#0f4f82"/><line x1="84.81" y1="491.10" x2="84.81" y2="494.70" class="ax"/><text transform="translate(87.41,497.90) rotate(-90) scale(0.7741,1) skewX(-8)" class="gl">BTG1</text><rect x="90.67" y="468.31" width="2.3" height="22.79" fill="#c50f2d"/><rect x="93.97" y="474.42" width="2.3" height="16.68" fill="#0f4f82"/><line x1="93.47" y1="491.10" x2="93.47" y2="494.70" class="ax"/><text transform="translate(96.07,497.90) rotate(-90) scale(0.8069,1) skewX(-8)" class="gl">TBL1XR1</text><rect x="99.33" y="474.98" width="2.3" height="16.12" fill="#c50f2d"/><rect x="102.63" y="471.83" width="2.3" height="19.27" fill="#0f4f82"/><line x1="102.13" y1="491.10" x2="102.13" y2="494.70" class="ax"/><text transform="translate(104.73,497.90) rotate(-90) scale(0.8298,1) skewX(-8)" class="gl">PRDM1</text><rect x="108.00" y="438.10" width="2.3" height="53.00" fill="#c50f2d"/><rect x="111.30" y="463.31" width="2.3" height="27.79" fill="#0f4f82"/><line x1="110.80" y1="491.10" x2="110.80" y2="494.70" class="ax"/><text transform="translate(113.40,497.90) rotate(-90) scale(0.7979,1) skewX(-8)" class="gl">TMSB4X</text><rect x="116.66" y="455.15" width="2.3" height="35.95" fill="#c50f2d"/><rect x="119.96" y="461.08" width="2.3" height="30.02" fill="#0f4f82"/><line x1="119.46" y1="491.10" x2="119.46" y2="494.70" class="ax"/><text transform="translate(122.06,497.90) rotate(-90) scale(0.7454,1) skewX(-8)" class="gl">DTX1</text><rect x="125.32" y="465.16" width="2.3" height="25.94" fill="#c50f2d"/><rect x="128.62" y="476.09" width="2.3" height="15.01" fill="#0f4f82"/><line x1="128.12" y1="491.10" x2="128.12" y2="494.70" class="ax"/><text transform="translate(130.72,497.90) rotate(-90) scale(0.7183,1) skewX(-8)" class="gl">ETV6</text><rect x="133.98" y="468.31" width="2.3" height="22.79" fill="#c50f2d"/><rect x="137.28" y="473.50" width="2.3" height="17.60" fill="#0f4f82"/><line x1="136.78" y1="491.10" x2="136.78" y2="494.70" class="ax"/><text transform="translate(139.38,497.90) rotate(-90) scale(0.8454,1) skewX(-8)" class="gl">MPEG1</text><rect x="142.64" y="478.13" width="2.3" height="12.97" fill="#c50f2d"/><rect x="145.94" y="477.76" width="2.3" height="13.34" fill="#0f4f82"/><line x1="145.44" y1="491.10" x2="145.44" y2="494.70" class="ax"/><text transform="translate(148.04,497.90) rotate(-90) scale(0.8249,1) skewX(-8)" class="gl">IRF4</text><rect x="151.31" y="474.98" width="2.3" height="16.12" fill="#c50f2d"/><rect x="154.61" y="471.09" width="2.3" height="20.01" fill="#0f4f82"/><line x1="154.11" y1="491.10" x2="154.11" y2="494.70" class="ax"/><text transform="translate(156.71,497.90) rotate(-90) scale(0.8233,1) skewX(-8)" class="gl">DUSP2</text><rect x="159.97" y="481.28" width="2.3" height="9.82" fill="#c50f2d"/><rect x="163.27" y="483.13" width="2.3" height="7.97" fill="#0f4f82"/><line x1="162.77" y1="491.10" x2="162.77" y2="494.70" class="ax"/><text transform="translate(165.37,497.90) rotate(-90) scale(0.8487,1) skewX(-8)" class="gl">BCL10</text><rect x="168.63" y="487.95" width="2.3" height="3.15" fill="#c50f2d"/><rect x="171.93" y="484.61" width="2.3" height="6.49" fill="#0f4f82"/><line x1="171.43" y1="491.10" x2="171.43" y2="494.70" class="ax"/><text transform="translate(174.03,497.90) rotate(-90) scale(0.8257,1) skewX(-8)" class="gl">CDKN2A</text><rect x="177.29" y="438.10" width="2.3" height="53.00" fill="#c50f2d"/><rect x="180.59" y="466.08" width="2.3" height="25.02" fill="#0f4f82"/><line x1="180.09" y1="491.10" x2="180.09" y2="494.70" class="ax"/><text transform="translate(182.69,497.90) rotate(-90) scale(0.7872,1) skewX(-8)" class="gl">KLF2</text><rect x="185.95" y="455.15" width="2.3" height="35.95" fill="#c50f2d"/><rect x="189.25" y="483.13" width="2.3" height="7.97" fill="#0f4f82"/><line x1="188.75" y1="491.10" x2="188.75" y2="494.70" class="ax"/><text transform="translate(191.35,497.90) rotate(-90) scale(0.8233,1) skewX(-8)" class="gl">UBE2A</text><rect x="194.62" y="471.83" width="2.3" height="19.27" fill="#c50f2d"/><rect x="197.92" y="479.43" width="2.3" height="11.67" fill="#0f4f82"/><line x1="197.42" y1="491.10" x2="197.42" y2="494.70" class="ax"/><text transform="translate(200.02,497.90) rotate(-90) scale(0.7987,1) skewX(-8)" class="gl">NOTCH1</text><rect x="203.28" y="487.95" width="2.3" height="3.15" fill="#c50f2d"/><rect x="206.58" y="484.06" width="2.3" height="7.04" fill="#0f4f82"/><line x1="206.08" y1="491.10" x2="206.08" y2="494.70" class="ax"/><text transform="translate(208.68,497.90) rotate(-90) scale(0.8028,1) skewX(-8)" class="gl">SETD2</text><rect x="211.94" y="481.28" width="2.3" height="9.82" fill="#c50f2d"/><rect x="215.24" y="485.54" width="2.3" height="5.56" fill="#0f4f82"/><line x1="214.74" y1="491.10" x2="214.74" y2="494.70" class="ax"/><text transform="translate(217.34,497.90) rotate(-90) scale(0.7962,1) skewX(-8)" class="gl">LYN</text><rect x="220.60" y="488.32" width="2.3" height="2.78" fill="#c50f2d"/><rect x="223.90" y="489.80" width="2.3" height="1.30" fill="#0f4f82"/><line x1="223.40" y1="491.10" x2="223.40" y2="494.70" class="ax"/><text transform="translate(226.00,497.90) rotate(-90) scale(0.8134,1) skewX(-8)" class="gl">TAGAP</text><rect x="229.26" y="488.32" width="2.3" height="2.78" fill="#c50f2d"/><rect x="232.56" y="485.17" width="2.3" height="5.93" fill="#0f4f82"/><line x1="232.06" y1="491.10" x2="232.06" y2="494.70" class="ax"/><text transform="translate(234.66,497.90) rotate(-90) scale(0.8044,1) skewX(-8)" class="gl">ITGA2</text><rect x="241.23" y="486.47" width="2.3" height="4.63" fill="#0f4f82"/><line x1="240.73" y1="491.10" x2="240.73" y2="494.70" class="ax"/><text transform="translate(243.33,497.90) rotate(-90) scale(0.7749,1) skewX(-8)" class="gl">SYK</text><rect x="246.59" y="485.17" width="2.3" height="5.93" fill="#c50f2d"/><rect x="249.89" y="483.87" width="2.3" height="7.23" fill="#0f4f82"/><line x1="249.39" y1="491.10" x2="249.39" y2="494.70" class="ax"/><text transform="translate(251.99,497.90) rotate(-90) scale(0.8200,1) skewX(-8)" class="gl">BTK</text><rect x="258.55" y="485.54" width="2.3" height="5.56" fill="#0f4f82"/><line x1="258.05" y1="491.10" x2="258.05" y2="494.70" class="ax"/><text transform="translate(260.65,497.90) rotate(-90) scale(0.8446,1) skewX(-8)" class="gl">PIK3CD</text><rect x="263.91" y="485.17" width="2.3" height="5.93" fill="#c50f2d"/><rect x="267.21" y="483.13" width="2.3" height="7.97" fill="#0f4f82"/><line x1="266.71" y1="491.10" x2="266.71" y2="494.70" class="ax"/><text transform="translate(269.31,497.90) rotate(-90) scale(0.8364,1) skewX(-8)" class="gl">BRAF</text><rect x="272.57" y="485.17" width="2.3" height="5.93" fill="#c50f2d"/><rect x="275.88" y="483.13" width="2.3" height="7.97" fill="#0f4f82"/><line x1="275.38" y1="491.10" x2="275.38" y2="494.70" class="ax"/><text transform="translate(277.98,497.90) rotate(-90) scale(0.7569,1) skewX(-8)" class="gl">ATM</text><rect x="281.24" y="488.32" width="2.3" height="2.78" fill="#c50f2d"/><rect x="284.54" y="483.87" width="2.3" height="7.23" fill="#0f4f82"/><line x1="284.04" y1="491.10" x2="284.04" y2="494.70" class="ax"/><text transform="translate(286.64,497.90) rotate(-90) scale(0.7946,1) skewX(-8)" class="gl">PTEN</text><rect x="289.90" y="485.17" width="2.3" height="5.93" fill="#c50f2d"/><rect x="293.20" y="486.47" width="2.3" height="4.63" fill="#0f4f82"/><line x1="292.70" y1="491.10" x2="292.70" y2="494.70" class="ax"/><text transform="translate(295.30,497.90) rotate(-90) scale(0.8446,1) skewX(-8)" class="gl">NFKBIA</text><rect x="298.56" y="488.32" width="2.3" height="2.78" fill="#c50f2d"/><rect x="301.86" y="481.28" width="2.3" height="9.82" fill="#0f4f82"/><line x1="301.36" y1="491.10" x2="301.36" y2="494.70" class="ax"/><text transform="translate(303.96,497.90) rotate(-90) scale(0.8028,1) skewX(-8)" class="gl">RFTN1</text><rect x="307.22" y="488.32" width="2.3" height="2.78" fill="#c50f2d"/><rect x="310.52" y="477.02" width="2.3" height="14.08" fill="#0f4f82"/><line x1="310.02" y1="491.10" x2="310.02" y2="494.70" class="ax"/><text transform="translate(312.62,497.90) rotate(-90) scale(0.7847,1) skewX(-8)" class="gl">CIITA</text><rect x="315.89" y="475.16" width="2.3" height="15.94" fill="#c50f2d"/><rect x="319.19" y="479.24" width="2.3" height="11.86" fill="#0f4f82"/><line x1="318.69" y1="491.10" x2="318.69" y2="494.70" class="ax"/><text transform="translate(321.29,497.90) rotate(-90) scale(0.7970,1) skewX(-8)" class="gl">DDX3X</text><rect x="324.55" y="481.65" width="2.3" height="9.45" fill="#c50f2d"/><rect x="327.85" y="486.10" width="2.3" height="5.00" fill="#0f4f82"/><line x1="327.35" y1="491.10" x2="327.35" y2="494.70" class="ax"/><text transform="translate(329.95,497.90) rotate(-90) scale(0.7823,1) skewX(-8)" class="gl">STAT6</text><rect x="336.51" y="483.87" width="2.3" height="7.23" fill="#0f4f82"/><line x1="336.01" y1="491.10" x2="336.01" y2="494.70" class="ax"/><text transform="translate(338.61,497.90) rotate(-90) scale(0.8233,1) skewX(-8)" class="gl">EP300</text><rect x="341.87" y="458.12" width="2.3" height="32.98" fill="#c50f2d"/><rect x="345.17" y="476.28" width="2.3" height="14.82" fill="#0f4f82"/><line x1="344.67" y1="491.10" x2="344.67" y2="494.70" class="ax"/><text transform="translate(347.27,497.90) rotate(-90) scale(0.8257,1) skewX(-8)" class="gl">ZFP36L1</text><rect x="350.53" y="468.31" width="2.3" height="22.79" fill="#c50f2d"/><rect x="353.83" y="476.28" width="2.3" height="14.82" fill="#0f4f82"/><line x1="353.33" y1="491.10" x2="353.33" y2="494.70" class="ax"/><text transform="translate(355.93,497.90) rotate(-90) scale(0.7847,1) skewX(-8)" class="gl">EBF1</text><rect x="362.50" y="482.39" width="2.3" height="8.71" fill="#0f4f82"/><line x1="362.00" y1="491.10" x2="362.00" y2="494.70" class="ax"/><text transform="translate(364.60,497.90) rotate(-90) scale(0.8380,1) skewX(-8)" class="gl">GNAI2</text><rect x="367.86" y="488.32" width="2.3" height="2.78" fill="#c50f2d"/><rect x="371.16" y="472.94" width="2.3" height="18.16" fill="#0f4f82"/><line x1="370.66" y1="491.10" x2="370.66" y2="494.70" class="ax"/><text transform="translate(373.26,497.90) rotate(-90) scale(0.8307,1) skewX(-8)" class="gl">BCL7A</text><rect x="376.52" y="478.50" width="2.3" height="12.60" fill="#c50f2d"/><rect x="379.82" y="472.94" width="2.3" height="18.16" fill="#0f4f82"/><line x1="379.32" y1="491.10" x2="379.32" y2="494.70" class="ax"/><text transform="translate(381.92,497.90) rotate(-90) scale(0.8569,1) skewX(-8)" class="gl">HIST1H1C</text><rect x="385.18" y="468.31" width="2.3" height="22.79" fill="#c50f2d"/><rect x="388.48" y="482.39" width="2.3" height="8.71" fill="#0f4f82"/><line x1="387.98" y1="491.10" x2="387.98" y2="494.70" class="ax"/><text transform="translate(390.58,497.90) rotate(-90) scale(0.7897,1) skewX(-8)" class="gl">FOXO1</text><rect x="393.84" y="448.30" width="2.3" height="42.80" fill="#c50f2d"/><rect x="397.14" y="479.61" width="2.3" height="11.49" fill="#0f4f82"/><line x1="396.64" y1="491.10" x2="396.64" y2="494.70" class="ax"/><text transform="translate(399.24,497.90) rotate(-90) scale(0.7962,1) skewX(-8)" class="gl">FAS</text><rect x="402.51" y="465.16" width="2.3" height="25.94" fill="#c50f2d"/><rect x="405.81" y="479.06" width="2.3" height="12.04" fill="#0f4f82"/><line x1="405.31" y1="491.10" x2="405.31" y2="494.70" class="ax"/><text transform="translate(407.91,497.90) rotate(-90) scale(0.7667,1) skewX(-8)" class="gl">STAT3</text><rect x="411.17" y="461.64" width="2.3" height="29.46" fill="#c50f2d"/><rect x="414.47" y="476.28" width="2.3" height="14.82" fill="#0f4f82"/><line x1="413.97" y1="491.10" x2="413.97" y2="494.70" class="ax"/><text transform="translate(416.57,497.90) rotate(-90) scale(0.8380,1) skewX(-8)" class="gl">KLHL6</text><rect x="419.83" y="485.36" width="2.3" height="5.74" fill="#c50f2d"/><rect x="423.13" y="473.68" width="2.3" height="17.42" fill="#0f4f82"/><line x1="422.63" y1="491.10" x2="422.63" y2="494.70" class="ax"/><text transform="translate(425.23,497.90) rotate(-90) scale(0.8397,1) skewX(-8)" class="gl">GNA13</text><rect x="428.49" y="472.01" width="2.3" height="19.09" fill="#c50f2d"/><rect x="431.79" y="468.68" width="2.3" height="22.42" fill="#0f4f82"/><line x1="431.29" y1="491.10" x2="431.29" y2="494.70" class="ax"/><text transform="translate(433.89,497.90) rotate(-90) scale(0.8200,1) skewX(-8)" class="gl">TNFAIP3</text><rect x="437.15" y="475.16" width="2.3" height="15.94" fill="#c50f2d"/><rect x="440.45" y="479.61" width="2.3" height="11.49" fill="#0f4f82"/><line x1="439.95" y1="491.10" x2="439.95" y2="494.70" class="ax"/><text transform="translate(442.55,497.90) rotate(-90) scale(0.8569,1) skewX(-8)" class="gl">IRF8</text><rect x="445.82" y="485.36" width="2.3" height="5.74" fill="#c50f2d"/><rect x="449.12" y="479.06" width="2.3" height="12.04" fill="#0f4f82"/><line x1="448.62" y1="491.10" x2="448.62" y2="494.70" class="ax"/><text transform="translate(451.22,497.90) rotate(-90) scale(0.8290,1) skewX(-8)" class="gl">BCL2</text><rect x="454.48" y="455.15" width="2.3" height="35.95" fill="#c50f2d"/><rect x="457.78" y="475.35" width="2.3" height="15.75" fill="#0f4f82"/><line x1="457.28" y1="491.10" x2="457.28" y2="494.70" class="ax"/><text transform="translate(459.88,497.90) rotate(-90) scale(0.8118,1) skewX(-8)" class="gl">SGK1</text><rect x="463.14" y="487.95" width="2.3" height="3.15" fill="#c50f2d"/><rect x="466.44" y="484.06" width="2.3" height="7.04" fill="#0f4f82"/><line x1="465.94" y1="491.10" x2="465.94" y2="494.70" class="ax"/><text transform="translate(468.54,497.90) rotate(-90) scale(0.8553,1) skewX(-8)" class="gl">EZH2</text><rect x="471.80" y="451.45" width="2.3" height="39.65" fill="#c50f2d"/><rect x="475.10" y="465.71" width="2.3" height="25.39" fill="#0f4f82"/><line x1="474.60" y1="491.10" x2="474.60" y2="494.70" class="ax"/><text transform="translate(477.20,497.90) rotate(-90) scale(0.8635,1) skewX(-8)" class="gl">SOCS1</text><rect x="480.46" y="478.13" width="2.3" height="12.97" fill="#c50f2d"/><rect x="483.76" y="464.23" width="2.3" height="26.87" fill="#0f4f82"/><line x1="483.26" y1="491.10" x2="483.26" y2="494.70" class="ax"/><text transform="translate(485.86,497.90) rotate(-90) scale(0.8479,1) skewX(-8)" class="gl">B2M</text><rect x="489.13" y="471.83" width="2.3" height="19.27" fill="#c50f2d"/><rect x="492.43" y="469.23" width="2.3" height="21.87" fill="#0f4f82"/><line x1="491.93" y1="491.10" x2="491.93" y2="494.70" class="ax"/><text transform="translate(494.53,497.90) rotate(-90) scale(0.8495,1) skewX(-8)" class="gl">CREBBP</text><rect x="497.79" y="451.45" width="2.3" height="39.65" fill="#c50f2d"/><rect x="501.09" y="474.98" width="2.3" height="16.12" fill="#0f4f82"/><line x1="500.59" y1="491.10" x2="500.59" y2="494.70" class="ax"/><text transform="translate(503.19,497.90) rotate(-90) scale(0.8069,1) skewX(-8)" class="gl">TNFRSF14</text><rect x="506.45" y="448.11" width="2.3" height="42.99" fill="#c50f2d"/><rect x="509.75" y="444.59" width="2.3" height="46.51" fill="#0f4f82"/><line x1="509.25" y1="491.10" x2="509.25" y2="494.70" class="ax"/><text transform="translate(511.85,497.90) rotate(-90) scale(0.8298,1) skewX(-8)" class="gl">KMT2D</text></g>
</svg>
</body></html>
